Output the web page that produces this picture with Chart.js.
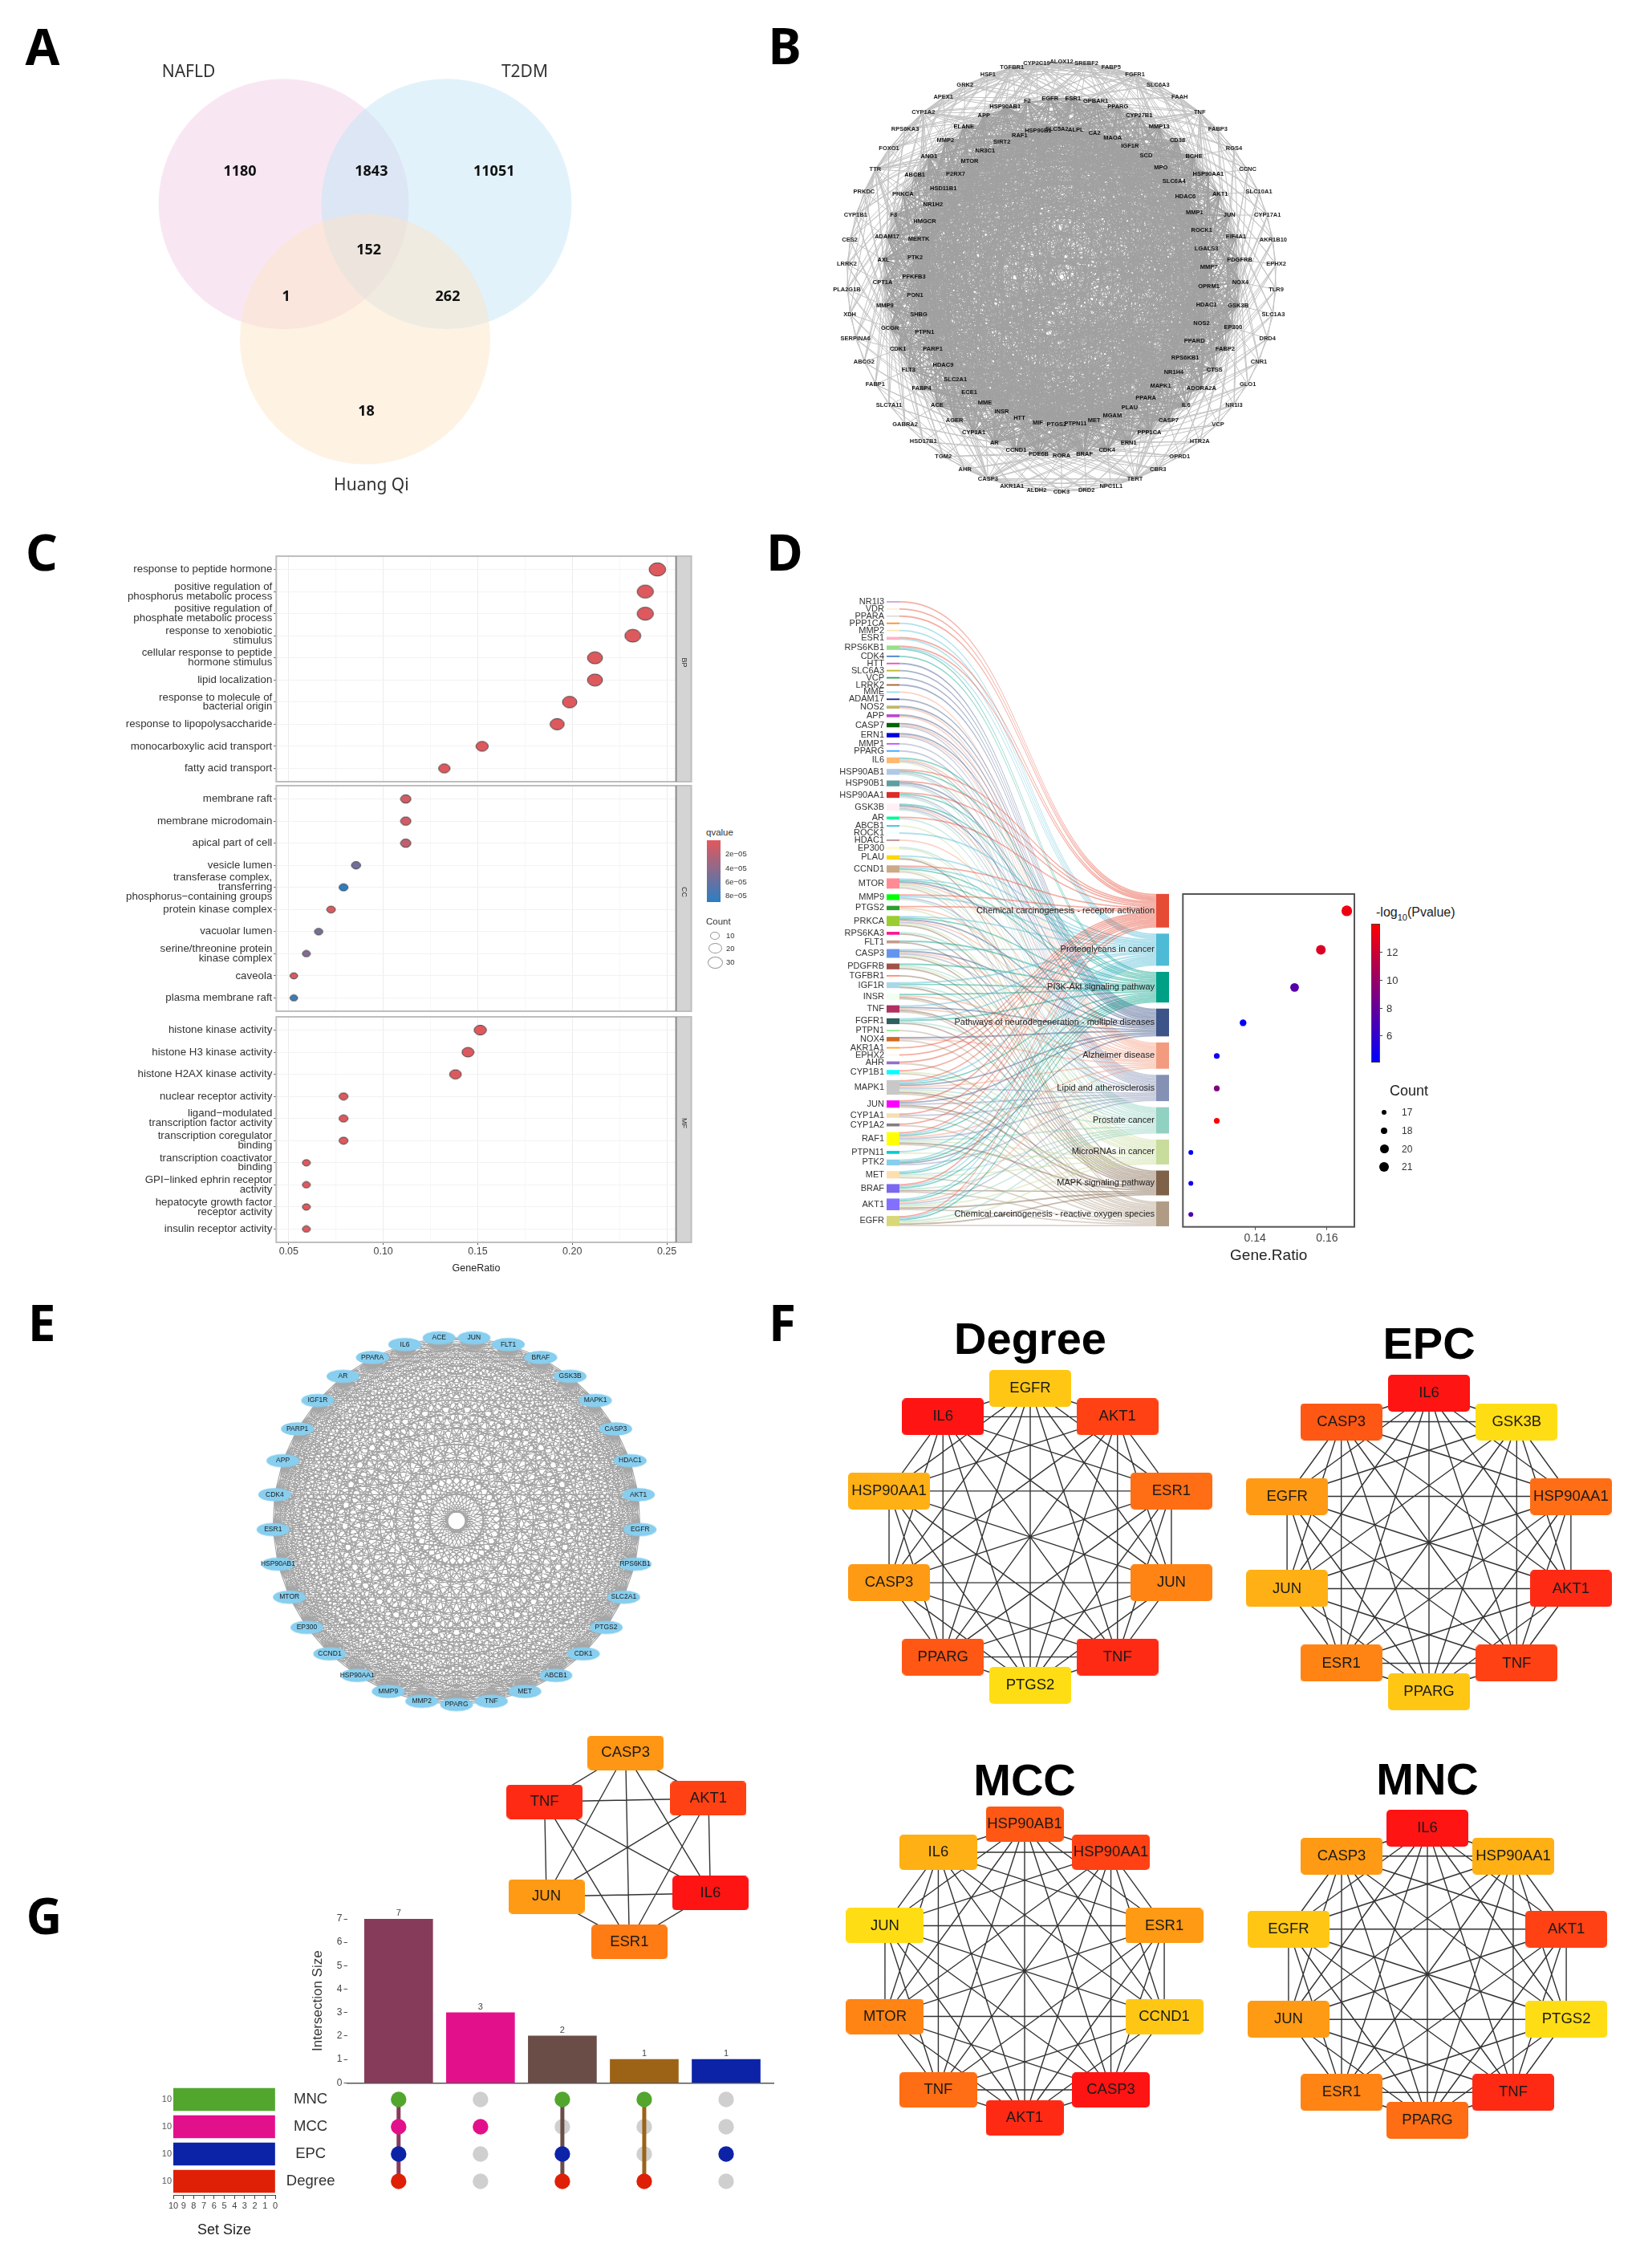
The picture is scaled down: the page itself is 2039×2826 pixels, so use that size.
<!DOCTYPE html>
<html>
<head>
<meta charset="utf-8">
<title>Figure</title>
<script src="https://cdn.jsdelivr.net/npm/chart.js@4"></script>
<style>
  html, body { margin: 0; background: #fff; }
  #page { position: relative; width: 2039px; height: 2826px; overflow: hidden; background: #fff; filter: blur(0.6px); }
  #page canvas { position: absolute; }
  .txt { position: absolute; white-space: nowrap; line-height: 1; }
  .swatch { position: absolute; }
</style>
</head>
<body>
<div id="page"></div>
<script>
// ---------- A: venn ----------
const vennSets = ['NAFLD', 'T2DM', 'Huang Qi'];
const vennCounts = ['1180', '1843', '11051', '152', '1', '262', '18'];

// ---------- B: three-ring network, clockwise from the top ----------
const outerRing = ['ALOX12','SREBF2','FABP5','FGFR1','SLC6A3','FAAH','TNF','FABP3','RGS4','CCNC','SLC10A1','CYP17A1','AKR1B10','EPHX2','TLR9','SLC1A3','DRD4','CNR1','GLO1','NR1I3','VCP','HTR2A','OPRD1','CBR3','TERT','NPC1L1','DRD2','CDK3','ALDH2','AKR1A1','CASP3','AHR','TGM2','HSD17B1','GABRA2','SLC7A11','FABP1','ABCG2','SERPINA6','XDH','PLA2G1B','LRRK2','CES2','CYP1B1','PRKDC','TTR','FOXO1','RPS6KA3','CYP1A2','APEX1','GRK2','HSF1','TGFBR1','CYP2C19'];
const middleRing = ['ESR1','GPBAR1','PPARG','CYP27B1','MMP13','CD38','BCHE','HSP90AA1','AKT1','JUN','EIF4A1','PDGFRB','NOX4','GSK3B','EP300','FABP2','CTSS','ADORA2A','IL6','CASP7','PPP1CA','ERN1','CDK4','BRAF','RORA','PDE6B','CCND1','AR','CYP1A1','AGER','ACE','FABP4','FLT3','CDK1','GCGR','MMP9','CPT1A','AXL','ADAM17','F3','PRKCA','ABCB1','ANG1','MMP2','ELANE','APP','HSP90AB1','F2','EGFR'];
const innerRing = ['SLC5A2','ALPL','CA2','MAOA','IGF1R','SCD','MPO','SLC6A4','HDAC6','MMP1','ROCK1','LGALS3','MMP7','OPRM1','HDAC1','NOS2','PPARD','RPS6KB1','NR1H4','MAPK1','PPARA','PLAU','MGAM','MET','PTPN11','PTGS2','MIF','HTT','INSR','MME','ECE1','SLC2A1','HDAC9','PARP1','PTPN1','SHBG','PON1','PFKFB3','PTK2','MERTK','HMGCR','NR1H2','HSD11B1','P2RX7','MTOR','NR3C1','SIRT2','RAF1','HSP90B1'];
// edges are too dense to read: these strides and hubs only approximate the density of the mass
const coreStrides = [3, 6, 10, 14, 18, 23, 27, 31, 35, 39, 43, 47, 50, 54, 59, 65, 72, 80];
const outerHubs = ['TNF', 'CASP3', 'FGFR1', 'SREBF2', 'TERT', 'CYP1A2', 'TTR', 'CYP2C19', 'TGFBR1'];

// ---------- C: GO dot plot ----------
const bpTerms = ['response to peptide hormone', ['positive regulation of','phosphorus metabolic process'], ['positive regulation of','phosphate metabolic process'], ['response to xenobiotic','stimulus'], ['cellular response to peptide','hormone stimulus'], 'lipid localization', ['response to molecule of','bacterial origin'], 'response to lipopolysaccharide', 'monocarboxylic acid transport', 'fatty acid transport'];
const bpRatio = [0.245, 0.2386, 0.2386, 0.232, 0.212, 0.212, 0.1986, 0.192, 0.1523, 0.1323];
const bpCount = [37, 36, 36, 35, 32, 32, 30, 29, 23, 20];
const bpQvalue = [2e-6, 2e-6, 2e-6, 2e-6, 2e-6, 2e-6, 2e-6, 2e-6, 2e-6, 2e-6];
const ccTerms = ['membrane raft', 'membrane microdomain', 'apical part of cell', 'vesicle lumen', ['transferase complex,','transferring','phosphorus\u2212containing groups'], 'protein kinase complex', 'vacuolar lumen', ['serine/threonine protein','kinase complex'], 'caveola', 'plasma membrane raft'];
const ccRatio = [0.1119, 0.1119, 0.1119, 0.0856, 0.079, 0.0724, 0.0658, 0.0593, 0.0527, 0.0527];
const ccCount = [17, 17, 17, 13, 12, 11, 10, 9, 8, 8];
const ccQvalue = [8e-6, 8e-6, 1.6e-5, 5.3e-5, 8.8e-5, 4e-6, 5e-5, 4.5e-5, 5e-6, 7.8e-5];
const mfTerms = ['histone kinase activity', 'histone H3 kinase activity', 'histone H2AX kinase activity', 'nuclear receptor activity', ['ligand\u2212modulated','transcription factor activity'], ['transcription coregulator','binding'], ['transcription coactivator','binding'], ['GPI\u2212linked ephrin receptor','activity'], ['hepatocyte growth factor','receptor activity'], 'insulin receptor activity'];
const mfRatio = [0.1513, 0.1448, 0.1382, 0.079, 0.079, 0.079, 0.0593, 0.0593, 0.0593, 0.0593];
const mfCount = [23, 22, 21, 12, 12, 12, 9, 9, 9, 9];
const mfQvalue = [2e-6, 2e-6, 2e-6, 2e-6, 2e-6, 2e-6, 2e-6, 2e-6, 2e-6, 2e-6];
const goTicks = [0.05, 0.075, 0.1, 0.125, 0.15, 0.175, 0.2, 0.225, 0.25];

// ---------- D: sankey + dot plot ----------
const pathwayNames = ['Chemical carcinogenesis - receptor activation', 'Proteoglycans in cancer', 'PI3K-Akt signaling pathway', 'Pathways of neurodegeneration - multiple diseases', 'Alzheimer disease', 'Lipid and atherosclerosis', 'Prostate cancer', 'MicroRNAs in cancer', 'MAPK signaling pathway', 'Chemical carcinogenesis - reactive oxygen species'];
const pathwayKeys = ['C', 'P', 'K', 'N', 'Z', 'L', 'S', 'M', 'A', 'R'];
const pathwayColors = ['#E64B35', '#4DBBD5', '#00A087', '#3C5488', '#F39B7F', '#8491B4', '#91D1C2', '#C8DC9C', '#7E6148', '#B09C85'];
const pathwayRatio = [0.1655, 0.1583, 0.151, 0.1367, 0.1294, 0.1294, 0.1294, 0.1222, 0.1222, 0.1222];
const pathwayCount = [23, 22, 21, 19, 18, 18, 18, 17, 17, 17];
const pathwayLogP = [13.0, 12.3, 7.5, 4.5, 4.8, 9.0, 13.5, 4.5, 4.8, 7.0];
const sankeyGenes = ['NR1I3','VDR','PPARA','PPP1CA','MMP2','ESR1','RPS6KB1','CDK4','HTT','SLC6A3','VCP','LRRK2','MME','ADAM17','NOS2','APP','CASP7','ERN1','MMP1','PPARG','IL6','HSP90AB1','HSP90B1','HSP90AA1','GSK3B','AR','ABCB1','ROCK1','HDAC1','EP300','PLAU','CCND1','MTOR','MMP9','PTGS2','PRKCA','RPS6KA3','FLT1','CASP3','PDGFRB','TGFBR1','IGF1R','INSR','TNF','FGFR1','PTPN1','NOX4','AKR1A1','EPHX2','AHR','CYP1B1','MAPK1','JUN','CYP1A1','CYP1A2','RAF1','PTPN11','PTK2','MET','BRAF','AKT1','EGFR'];
const sankeyLinks = ['C','C','C','P','P','CP','CPK','K','N','N','N','N','Z','N','NZ','NZ','NZL','NZL','L','L','KZLM','CKLS','CNLS','CKLS','KNZLS','CS','M','P','Z','SM','PMA','CPKMR','PKNZSMR','CPLS','CZM','PKNZLMA','SA','KA','PNZLMA','KSMA','A','PKSA','KZAR','PNZAR','PKSA','R','NZR','C','C','CR','CMR','CPKNZLSMAR','CNLAR','CLR','CR','CPKZLSMAR','PM','PKNL','PKSMR','CPKSAR','PKZLSMAR','CPKSMAR'];
const sankeyGeneColors = ['#C9A8D8','#FFEFD5','#DDDDDD','#FF8C2E','#FFE4B5','#FFB0C8','#98DF8A','#4682C4','#E84FC0','#BDB52C','#2E9B5C','#A5622A','#9BDDE8','#1F1F8F','#BDB76B','#BA48D2','#006400','#0000E0','#BF4FFF','#3FA0FF','#FFB870','#B0C8E8','#5F9EA0','#DC2C2C','#FFF0F5','#00FA9A','#3FC0D8','#F0FFFF','#BC8F8F','#FFFACD','#FFD700','#CCAA88','#FF8C94','#00FF00','#2E9E2E','#9ACD32','#FF1493','#C49A8C','#6495ED','#A0524A','#FF8A70','#A8D8E8','#F0FFF0','#B03060','#2F5F5F','#90EE90','#D2691E','#FFA520','#FFF5EE','#9370CB','#00FFFF','#C8C8C8','#FF00FF','#F5DEB3','#808080','#FFFF00','#00CED1','#87CEEB','#FFDEAD','#7B68EE','#8470FF','#D8D878'];
const dotTicksD = [0.14, 0.16];

// ---------- E: complete network, clockwise from the bottom ----------
const hubNetworkGenes = ['PPARG','MMP2','MMP9','HSP90AA1','CCND1','EP300','MTOR','HSP90AB1','ESR1','CDK4','APP','PARP1','IGF1R','AR','PPARA','IL6','ACE','JUN','FLT1','BRAF','GSK3B','MAPK1','CASP3','HDAC1','AKT1','EGFR','RPS6KB1','SLC2A1','PTGS2','CDK1','ABCB1','MET','TNF'];

// ---------- F: top-10 networks, clockwise from the top, rank 1 = red ----------
const degreeGenes = ['EGFR','AKT1','ESR1','JUN','TNF','PTGS2','PPARG','CASP3','HSP90AA1','IL6'];
const degreeRanks = [9, 3, 5, 6, 2, 10, 4, 7, 8, 1];
const epcGenes = ['IL6','GSK3B','HSP90AA1','AKT1','TNF','PPARG','ESR1','JUN','EGFR','CASP3'];
const epcRanks = [1, 10, 5, 2, 3, 9, 6, 8, 7, 4];
const mccGenes = ['HSP90AB1','HSP90AA1','ESR1','CCND1','CASP3','AKT1','TNF','MTOR','JUN','IL6'];
const mccRanks = [4, 3, 7, 9, 1, 2, 5, 6, 10, 8];
const mncGenes = ['IL6','HSP90AA1','AKT1','PTGS2','TNF','PPARG','ESR1','JUN','EGFR','CASP3'];
const mncRanks = [1, 8, 3, 10, 2, 5, 6, 7, 9, 7];
const coreGenes = ['CASP3','AKT1','IL6','ESR1','JUN','TNF'];
const coreRanks = [6.8, 3, 1, 5.6, 7, 2];

// ---------- G: upset ----------
const upsetSets = ['MNC', 'MCC', 'EPC', 'Degree'];
const upsetSetSizes = [10, 10, 10, 10];
const upsetSizes = [7, 3, 2, 1, 1];
const upsetMembers = [[1,1,1,1], [0,1,0,0], [1,0,1,1], [1,0,0,1], [0,0,1,0]];
const upsetBarColors = ['#873B5B', '#E3108C', '#6B4D48', '#9C6317', '#0C23A8'];
const upsetSetColors = ['#52A62E', '#E3108C', '#0C23A8', '#DF2006'];

// ---------- helpers ----------
const page = document.getElementById('page');
const SANS = '"Liberation Sans", Arial, sans-serif';

function addText(str, x, y, size, opts = {}) {
    const el = document.createElement('div');
    el.className = 'txt';
    el.innerHTML = str;
    el.style.left = x + 'px';
    el.style.top = y + 'px';
    el.style.fontSize = size + 'px';
    el.style.fontFamily = opts.family || SANS;
    el.style.fontWeight = opts.weight || 400;
    el.style.color = opts.color || '#222';
    el.style.transform = opts.align === 'left' ? 'translateY(-50%)' : 'translate(-50%,-50%)';
    page.appendChild(el);
}

function addSwatch(x, y, w, h, css) {
    const el = document.createElement('div');
    el.className = 'swatch';
    el.style.cssText = `left:${x}px;top:${y}px;width:${w}px;height:${h}px;${css}`;
    page.appendChild(el);
}

// text next to the points of a dataset
const markLabels = {
    id: 'markLabels',
    afterDatasetsDraw(chart) {
        const ctx = chart.ctx;
        chart.data.datasets.forEach((ds, i) => {
            if (!ds.markText) return;
            ctx.save();
            ctx.font = ds.markFont;
            ctx.fillStyle = ds.markColor || '#222';
            ctx.textAlign = ds.markAlign || 'center';
            ctx.textBaseline = 'middle';
            chart.getDatasetMeta(i).data.forEach((el, j) => {
                ctx.fillText(ds.markText[j], el.x + (ds.markDx || 0), el.y + (ds.markDy || 0));
            });
            ctx.restore();
        });
    }
};
Chart.register(markLabels);

function makeChart(x, y, w, h, config) {
    const canvas = document.createElement('canvas');
    canvas.width = w;
    canvas.height = h;
    canvas.style.left = x + 'px';
    canvas.style.top = y + 'px';
    page.appendChild(canvas);
    config.options = Object.assign({
        responsive: false,
        animation: false,
        devicePixelRatio: 1,
        events: []
    }, config.options);
    // autoPadding would shrink the plot by the size of the biggest mark
    config.options.layout = Object.assign({ autoPadding: false }, config.options.layout);
    config.options.plugins = Object.assign({ legend: { display: false }, tooltip: { enabled: false } }, config.options.plugins);
    return new Chart(canvas, config);
}

// fixes an axis box so the plot area lands where it should, labels or not
function fixAxis(scale, size) {
    if (scale.isHorizontal()) scale.height = size;
    else scale.width = size;
    scale.paddingTop = scale.paddingBottom = scale.paddingLeft = scale.paddingRight = 0;
}

function hiddenAxis(min, max, reverse) {
    return { type: 'linear', display: false, min: min, max: max, reverse: !!reverse };
}

function ringPoints(count, radius, start) {
    const pts = [];
    for (let i = 0; i < count; i++) {
        const a = start + i * 2 * Math.PI / count;
        pts.push({ x: radius * Math.sin(a), y: radius * Math.cos(a) });
    }
    return pts;
}

function segments(pairs) {
    const out = [];
    pairs.forEach(([a, b]) => out.push(a, b, { x: NaN, y: NaN }));
    return out;
}

function allPairs(pts) {
    const pairs = [];
    for (let i = 0; i < pts.length; i++) {
        for (let j = i + 1; j < pts.length; j++) pairs.push([pts[i], pts[j]]);
    }
    return pairs;
}

function ovalMark(w, h, fill, stroke) {
    const c = document.createElement('canvas');
    c.width = Math.ceil(w) + 2;
    c.height = Math.ceil(h) + 2;
    const ctx = c.getContext('2d');
    ctx.beginPath();
    ctx.ellipse(c.width / 2, c.height / 2, w / 2, h / 2, 0, 0, 2 * Math.PI);
    ctx.fillStyle = fill;
    ctx.fill();
    if (stroke) {
        ctx.strokeStyle = stroke;
        ctx.lineWidth = 1;
        ctx.stroke();
    }
    return c;
}

function roundRectMark(w, h, fill) {
    const c = document.createElement('canvas');
    c.width = w;
    c.height = h;
    const ctx = c.getContext('2d');
    ctx.beginPath();
    ctx.roundRect(0, 0, w, h, 5);
    ctx.fillStyle = fill;
    ctx.fill();
    return c;
}

function rankColor(rank) {
    const g = Math.round(20 + (rank - 1) / 9 * 201);
    return `rgb(255,${g},20)`;
}

function lerpColor(a, b, t) {
    t = Math.max(0, Math.min(1, t));
    return `rgb(${a.map((v, i) => Math.round(v + (b[i] - v) * t)).join(',')})`;
}

function boxFrame(color, lineWidth) {
    return {
        id: 'boxFrame',
        afterDatasetsDraw(chart) {
            const { left, top, right, bottom } = chart.chartArea;
            chart.ctx.save();
            chart.ctx.strokeStyle = color;
            chart.ctx.lineWidth = lineWidth;
            chart.ctx.strokeRect(left, top, right - left, bottom - top);
            chart.ctx.restore();
        }
    };
}

// ---------- A ----------
(function drawVenn() {
    const unit = 156;
    const circles = [{ x: -0.65, y: 0.36 }, { x: 0.65, y: 0.36 }, { x: 0, y: -0.72 }];
    const countSpots = [{ x: -1.0, y: 0.62 }, { x: 0.05, y: 0.62 }, { x: 1.03, y: 0.62 }, { x: 0.03, y: -0.01 }, { x: -0.63, y: -0.385 }, { x: 0.66, y: -0.385 }, { x: 0.01, y: -1.3 }];
    const nameSpots = [{ x: -1.41, y: 1.41 }, { x: 1.275, y: 1.41 }, { x: 0.05, y: -1.89 }];
    makeChart(143, 14, 625, 616, {
        data: {
            datasets: [
                { type: 'scatter', data: countSpots, pointRadius: 0, markText: vennCounts, markFont: '700 18px "Noto Sans"', markColor: '#111' },
                { type: 'scatter', data: nameSpots, pointRadius: 0, markText: vennSets, markFont: '21px "Noto Sans"', markColor: '#333' },
                {
                    type: 'bubble',
                    data: circles.map(c => ({ x: c.x, y: c.y, r: unit })),
                    backgroundColor: ['rgba(241,207,229,.5)', 'rgba(195,229,247,.5)', 'rgba(253,229,199,.5)'],
                    borderWidth: 0
                }
            ]
        },
        options: { scales: { x: hiddenAxis(-2, 2.006), y: hiddenAxis(-2.05, 1.9) } }
    });
})();

// ---------- B ----------
(function drawDenseNetwork() {
    const r = 268, margin = 40;
    const extent = (r + margin) / r;
    const outerPts = ringPoints(outerRing.length, 1, 0);
    const middlePts = ringPoints(middleRing.length, 223 / r, 0.064);
    const innerPts = ringPoints(innerRing.length, 184 / r, -0.031);
    const core = middlePts.concat(innerPts);
    const coreNames = middleRing.concat(innerRing);

    // the name letters shift each stride a little so the mass does not look like a clean rosette
    const nameShift = name => name.split('').reduce((s, ch) => s + ch.charCodeAt(0), 0);
    const corePairs = [];
    core.forEach((p, i) => coreStrides.forEach((s, k) => {
        const shift = (nameShift(coreNames[i]) * (k + 1)) % 9;
        corePairs.push([p, core[(i + s + shift) % core.length]]);
    }));

    const outerPairs = [];
    outerPts.forEach((p, i) => {
        const near = Math.round(i / outerRing.length * middlePts.length);
        [-7, -4, -1, 2, 5, 8].forEach(d => {
            outerPairs.push([p, middlePts[(near + d + middlePts.length) % middlePts.length]]);
        });
        outerPairs.push([p, outerPts[(i + 2) % outerPts.length]]);
    });
    outerHubs.forEach(name => {
        const i = outerRing.indexOf(name);
        const near = Math.round(i / outerRing.length * innerPts.length);
        for (let d = -12; d <= 12; d += 2) {
            outerPairs.push([outerPts[i], innerPts[(near + d + innerPts.length) % innerPts.length]]);
            outerPairs.push([outerPts[i], outerPts[(i + d / 2 + outerPts.length) % outerPts.length]]);
        }
    });

    const labelFont = '700 7.5px ' + SANS;
    makeChart(1323 - r - margin, 345 - r - margin, 2 * (r + margin), 2 * (r + margin), {
        type: 'scatter',
        data: {
            datasets: [
                { data: outerPts, pointRadius: 0, markText: outerRing, markFont: labelFont, markColor: '#222' },
                { data: middlePts, pointRadius: 0, markText: middleRing, markFont: labelFont, markColor: '#111' },
                { data: innerPts, pointRadius: 0, markText: innerRing, markFont: labelFont, markColor: '#111' },
                { data: segments(corePairs), showLine: true, pointRadius: 0, borderColor: '#a0a0a0', borderWidth: 0.95 },
                { data: segments(outerPairs), showLine: true, pointRadius: 0, borderColor: '#c2c2c2', borderWidth: 1 }
            ]
        },
        options: { scales: { x: hiddenAxis(-extent, extent), y: hiddenAxis(-extent, extent) } }
    });
})();

// ---------- C ----------
function goColor(q) {
    return lerpColor([226, 88, 92], [42, 127, 196], q / 8.8e-5);
}

function facetStrip(label) {
    return {
        id: 'facetStrip',
        afterDatasetsDraw(chart) {
            const { left, top, right, bottom } = chart.chartArea;
            const ctx = chart.ctx;
            const stripWidth = 19;
            ctx.save();
            ctx.fillStyle = '#D4D4D4';
            ctx.fillRect(right, top, stripWidth, bottom - top);
            ctx.strokeStyle = '#BEBEBE';
            ctx.lineWidth = 2;
            ctx.strokeRect(left, top, right + stripWidth - left, bottom - top);
            ctx.strokeStyle = '#8A8A8A';
            ctx.beginPath();
            ctx.moveTo(right, top);
            ctx.lineTo(right, bottom);
            ctx.stroke();
            ctx.translate(right + stripWidth / 2, (top + bottom) / 2 - 8);
            ctx.rotate(Math.PI / 2);
            ctx.fillStyle = '#333';
            ctx.font = '9px ' + SANS;
            ctx.textAlign = 'center';
            ctx.textBaseline = 'middle';
            ctx.fillText(label, 0, 0);
            ctx.restore();
        }
    };
}

function goFacet(top, terms, ratio, count, qvalue, strip, withAxis) {
    const plotLeft = 344.3, canvasLeft = 110, plotWidth = 498.3, plotHeight = 281.5;
    const below = withAxis ? 44 : 4;
    makeChart(canvasLeft, top - 4, 760, plotHeight + 4 + below, {
        type: 'scatter',
        data: {
            datasets: [{
                data: ratio.map((v, i) => ({ x: v, y: i })),
                pointRadius: 8,
                pointStyle: ratio.map((v, i) => {
                    const w = 6.5 + count[i] * 0.38;
                    return ovalMark(w, w * 0.8, goColor(qvalue[i]), '#444');
                })
            }]
        },
        options: {
            layout: { padding: { top: 4, right: 760 - (plotLeft - canvasLeft) - plotWidth, bottom: 0, left: 0 } },
            scales: {
                x: {
                    type: 'linear',
                    min: 0.0434,
                    max: 0.2549,
                    afterBuildTicks: s => { s.ticks = goTicks.map(v => ({ value: v })); },
                    afterFit: s => fixAxis(s, below),
                    border: { display: false },
                    grid: {
                        color: c => (c.index % 2 ? '#F7F7F7' : '#ECECEC'),
                        tickColor: c => (c.index % 2 || !withAxis ? 'transparent' : '#555'),
                        tickLength: withAxis ? 3 : 0
                    },
                    ticks: {
                        display: withAxis,
                        autoSkip: false,
                        maxRotation: 0,
                        padding: 1,
                        color: '#444',
                        font: { size: 12.5, family: 'Liberation Sans' },
                        callback: (v, i) => (i % 2 ? '' : v.toFixed(2))
                    },
                    title: { display: withAxis, text: 'GeneRatio', color: '#222', font: { size: 12.5, family: 'Liberation Sans' }, padding: { top: 0, bottom: 4 } }
                },
                y: {
                    type: 'linear',
                    reverse: true,
                    min: -0.6,
                    max: 9.6,
                    afterBuildTicks: s => { s.ticks = terms.map((t, i) => ({ value: i })); },
                    afterFit: s => fixAxis(s, plotLeft - canvasLeft),
                    border: { display: false },
                    grid: { color: '#F2F2F2', tickColor: '#555', tickLength: 3 },
                    ticks: {
                        autoSkip: false,
                        padding: 2,
                        color: '#333',
                        font: { size: 13.3, family: 'Liberation Sans', lineHeight: 0.9 },
                        callback: v => terms[v]
                    }
                }
            }
        },
        plugins: [facetStrip(strip)]
    });
}

goFacet(692.7, bpTerms, bpRatio, bpCount, bpQvalue, 'BP', false);
goFacet(979.3, ccTerms, ccRatio, ccCount, ccQvalue, 'CC', false);
goFacet(1266.7, mfTerms, mfRatio, mfCount, mfQvalue, 'MF', true);

// C legend
addText('qvalue', 880, 1038, 11.5, { align: 'left', color: '#333' });
addSwatch(880.5, 1046.7, 17.5, 77.6, 'background:linear-gradient(#E2585C,#2A7FC4)');
[['2e\u221205', 1064], ['4e\u221205', 1081.7], ['6e\u221205', 1098.7], ['8e\u221205', 1116]].forEach(([t, y]) => addText(t, 904, y, 9.5, { align: 'left', color: '#333' }));
addText('Count', 880, 1149, 11.5, { align: 'left', color: '#333' });
[[10, 1166.3, 12.6, 10], [20, 1181.7, 17, 13.3], [30, 1199.3, 19, 15.3]].forEach(([n, y, w, h]) => {
    addSwatch(891 - w / 2, y - h / 2, w, h, 'box-sizing:border-box;border:1.5px solid #999;border-radius:50%');
    addText(String(n), 905, y, 9.5, { align: 'left', color: '#333' });
});

// ---------- D ----------
(function drawSankey() {
    const geneGap = 3.9, pathGap = 4.17, totalUnits = 428;
    const linkCount = sankeyLinks.reduce((s, l) => s + l.length, 0);
    const pathTotals = pathwayKeys.map(k => sankeyLinks.join('').split(k).length - 1);

    const geneTop = [];
    let cursor = 0;
    sankeyLinks.forEach(l => { geneTop.push(cursor); cursor += l.length + geneGap; });
    const pathTop = [];
    cursor = totalUnits - (linkCount + (pathwayKeys.length - 1) * pathGap);
    const firstUnit = cursor;
    pathTotals.forEach(n => { pathTop.push(cursor); cursor += n + pathGap; });
    const pathCenters = pathTop.map((t, i) => t + pathTotals[i] / 2);
    const nodeWidth = 16 / 352;

    const flows = {
        id: 'flows',
        beforeDatasetsDraw(chart) {
            const { x: xs, y: ys } = chart.scales;
            const ctx = chart.ctx;
            const x0 = xs.getPixelForValue(nodeWidth), x1 = xs.getPixelForValue(1 - nodeWidth);
            const mid = (x0 + x1) / 2;
            const pathUsed = pathTop.slice();
            const ribbons = [];
            sankeyLinks.forEach((links, g) => {
                let used = geneTop[g];
                pathwayKeys.forEach((k, p) => {
                    if (!links.includes(k)) return;
                    ribbons.push({ p, a: used, b: pathUsed[p] });
                    used += 1;
                    pathUsed[p] += 1;
                });
            });
            ctx.save();
            for (let p = pathwayKeys.length - 1; p >= 0; p--) {
                ctx.fillStyle = pathwayColors[p] + '73';
                ribbons.filter(r => r.p === p).forEach(r => {
                    ctx.beginPath();
                    ctx.moveTo(x0, ys.getPixelForValue(r.a));
                    ctx.bezierCurveTo(mid, ys.getPixelForValue(r.a), mid, ys.getPixelForValue(r.b), x1, ys.getPixelForValue(r.b));
                    ctx.lineTo(x1, ys.getPixelForValue(r.b + 1));
                    ctx.bezierCurveTo(mid, ys.getPixelForValue(r.b + 1), mid, ys.getPixelForValue(r.a + 1), x0, ys.getPixelForValue(r.a + 1));
                    ctx.closePath();
                    ctx.fill();
                });
            }
            sankeyLinks.forEach((links, g) => {
                ctx.fillStyle = sankeyGeneColors[g];
                const top = ys.getPixelForValue(geneTop[g]);
                ctx.fillRect(xs.getPixelForValue(0), top, x0 - xs.getPixelForValue(0), ys.getPixelForValue(geneTop[g] + links.length) - top);
            });
            pathTotals.forEach((n, p) => {
                ctx.fillStyle = pathwayColors[p];
                const top = ys.getPixelForValue(pathTop[p]);
                ctx.fillRect(x1, top, xs.getPixelForValue(1) - x1, ys.getPixelForValue(pathTop[p] + n) - top);
            });
            ctx.restore();
        }
    };

    const labelFont = '11px ' + SANS;
    makeChart(1020, 740, 450, 800, {
        type: 'scatter',
        data: {
            datasets: [
                {
                    data: sankeyLinks.map((l, g) => ({ x: 0, y: geneTop[g] + l.length / 2 })),
                    pointRadius: 0, markText: sankeyGenes, markFont: labelFont, markColor: '#333', markAlign: 'right', markDx: -3
                },
                {
                    data: pathCenters.map(y => ({ x: 1 - nodeWidth, y: y })),
                    pointRadius: 0, markText: pathwayNames, markFont: labelFont, markColor: '#222', markAlign: 'right', markDx: -2
                }
            ]
        },
        options: {
            layout: { padding: { left: 85, right: 13, top: 9, bottom: 12 } },
            scales: { x: hiddenAxis(0, 1), y: hiddenAxis(0, totalUnits, true) }
        },
        plugins: [flows]
    });

    makeChart(1460, 1100, 240, 480, {
        type: 'scatter',
        data: {
            datasets: [{
                data: pathwayRatio.map((v, i) => ({ x: v, y: pathCenters[i] })),
                pointRadius: pathwayCount.map(c => (6 + (c - 17) * 1.2) / 2),
                borderWidth: 0,
                backgroundColor: pathwayLogP.map(v => lerpColor([0, 0, 255], [255, 0, 0], (v - 4.3) / 9.3))
            }]
        },
        options: {
            layout: { padding: { left: 14.3, right: 12, top: 14, bottom: 0 } },
            scales: {
                x: {
                    type: 'linear',
                    min: 0.12,
                    max: 0.1676,
                    afterBuildTicks: s => { s.ticks = dotTicksD.map(v => ({ value: v })); },
                    afterFit: s => fixAxis(s, 51.3),
                    border: { display: false },
                    grid: { drawOnChartArea: false, tickColor: '#555', tickLength: 4 },
                    ticks: { color: '#444', padding: 2, font: { size: 14, family: 'Liberation Sans' }, callback: v => v.toFixed(2) },
                    title: { display: true, text: 'Gene.Ratio', color: '#222', font: { size: 19, family: 'Liberation Sans' }, padding: { top: 0, bottom: 4 } }
                },
                y: hiddenAxis(firstUnit, totalUnits, true)
            }
        },
        plugins: [boxFrame('#555', 2)]
    });
})();

// D legend
addText('-log<sub style="font-size:11px">10</sub>(Pvalue)', 1715, 1139, 16, { align: 'left', color: '#222' });
addSwatch(1710, 1151.7, 9, 171.6, 'background:linear-gradient(#ff0000,#0000ff);outline:1px solid #444');
[['12', 1186.3], ['10', 1220.7], ['8', 1255.7], ['6', 1290.3]].forEach(([t, y]) => {
    addSwatch(1719, y, 4, 1, 'background:#444');
    addText(t, 1728, y, 13, { align: 'left', color: '#333' });
});
addText('Count', 1732, 1359, 18, { align: 'left', color: '#222' });
[[17, 1386, 6], [18, 1409, 8], [20, 1431.7, 11], [21, 1454.3, 12]].forEach(([n, y, d]) => {
    addSwatch(1725 - d / 2, y - d / 2, d, d, 'background:#000;border-radius:50%');
    addText(String(n), 1747, y, 12, { align: 'left', color: '#333' });
});

// ---------- E + F ----------
function ringChart(cx, cy, r, margin, genes, start, marks, font, edgeColor, edgeWidth) {
    const extent = (r + margin) / r;
    const pts = ringPoints(genes.length, 1, start);
    makeChart(cx - r - margin, cy - r - margin, 2 * (r + margin), 2 * (r + margin), {
        type: 'scatter',
        data: {
            datasets: [
                { data: pts, pointRadius: 5, pointStyle: marks, markText: genes, markFont: font, markColor: '#1a1a1a' },
                { data: segments(allPairs(pts)), showLine: true, pointRadius: 0, borderColor: edgeColor, borderWidth: edgeWidth }
            ]
        },
        options: { scales: { x: hiddenAxis(-extent, extent), y: hiddenAxis(-extent, extent) } }
    });
}

ringChart(568.5, 1895, 229, 30, hubNetworkGenes, Math.PI, hubNetworkGenes.map(() => ovalMark(41, 16.7, '#87CEEF')), '8.5px ' + SANS, '#a6a6a6', 1.2);

function topTenNetwork(title, titleY, cx, cy, r, genes, ranks, w, h) {
    addText(title, cx, titleY, 56, { weight: 700, color: '#000' });
    ringChart(cx, cy, r, 60, genes, 0, ranks.map(v => roundRectMark(w, h, rankColor(v))), '18.5px ' + SANS, '#333', 1.4);
}

topTenNetwork('Degree', 1668, 1284, 1915, 185, degreeGenes, degreeRanks, 102, 46);
topTenNetwork('EPC', 1674, 1781, 1922, 186, epcGenes, epcRanks, 102, 46);
topTenNetwork('MCC', 2218, 1277, 2455.5, 183, mccGenes, mccRanks, 97, 44);
topTenNetwork('MNC', 2217, 1779, 2460, 182, mncGenes, mncRanks, 102, 46);
ringChart(782, 2302, 118, 60, coreGenes, -0.02, coreRanks.map(v => roundRectMark(95, 43, rankColor(v))), '18.5px ' + SANS, '#333', 1.4);

// ---------- G ----------
(function drawUpset() {
    const xMin = -0.63, xMax = 4.585;
    const barData = upsetSizes.map((v, i) => ({ x: i, y: v }));
    makeChart(380, 2370, 595, 240, {
        type: 'bar',
        data: {
            datasets: [{
                data: barData,
                backgroundColor: upsetBarColors,
                barThickness: 85,
                markText: upsetSizes.map(String),
                markFont: '11px ' + SANS,
                markColor: '#444',
                markDy: -7
            }]
        },
        options: {
            layout: { padding: { top: 21, right: 10.3 } },
            scales: {
                x: {
                    type: 'linear',
                    offset: false,
                    min: xMin,
                    max: xMax,
                    afterFit: s => fixAxis(s, 14.7),
                    border: { color: '#555', width: 1.5 },
                    grid: { display: false },
                    ticks: { display: false }
                },
                y: {
                    min: 0,
                    max: 7,
                    afterFit: s => fixAxis(s, 52.5),
                    border: { display: false },
                    grid: { drawOnChartArea: false, tickColor: '#555', tickLength: 4 },
                    ticks: { stepSize: 1, color: '#444', padding: 2, font: { size: 12, family: 'Liberation Sans' } },
                    title: { display: true, text: 'Intersection Size', color: '#333', font: { size: 17, family: 'Liberation Sans' }, padding: { top: 6, bottom: 0 } }
                }
            }
        }
    });

    const greyDots = [], colorDots = [], dotColors = [], links = [];
    upsetMembers.forEach((col, i) => {
        const rows = [];
        col.forEach((on, row) => {
            if (on) {
                colorDots.push({ x: i, y: row });
                dotColors.push(upsetSetColors[row]);
                rows.push(row);
            } else {
                greyDots.push({ x: i, y: row });
            }
        });
        if (rows.length > 1) {
            links.push({
                data: [{ x: i, y: rows[0] }, { x: i, y: rows[rows.length - 1] }],
                showLine: true, pointRadius: 0, borderColor: upsetBarColors[i], borderWidth: 5, order: 2
            });
        }
    });
    makeChart(330, 2595, 645, 145, {
        type: 'scatter',
        data: {
            datasets: [
                { data: colorDots, pointRadius: 9.7, backgroundColor: dotColors, borderWidth: 0, order: 1 },
                ...links,
                { data: greyDots, pointRadius: 9.7, backgroundColor: '#CFCFCF', borderWidth: 0, order: 3 }
            ]
        },
        options: {
            layout: { padding: { top: 4, bottom: 5, right: 10.3 } },
            scales: {
                x: hiddenAxis(xMin, xMax),
                y: {
                    type: 'linear',
                    reverse: true,
                    min: -0.5,
                    max: 3.5,
                    afterBuildTicks: s => { s.ticks = upsetSets.map((n, i) => ({ value: i })); },
                    afterFit: s => fixAxis(s, 102.5),
                    border: { display: false },
                    grid: { display: false },
                    ticks: {
                        autoSkip: false,
                        padding: 7,
                        crossAlign: 'center',
                        color: '#333',
                        font: { size: 18.5, family: 'Liberation Sans' },
                        callback: v => upsetSets[v]
                    }
                }
            }
        }
    });

    makeChart(190, 2590, 170, 210, {
        type: 'bar',
        data: {
            labels: upsetSets,
            datasets: [{
                data: upsetSetSizes,
                backgroundColor: upsetSetColors,
                barThickness: 28,
                markText: upsetSetSizes.map(String),
                markFont: '11px ' + SANS,
                markColor: '#555',
                markAlign: 'right',
                markDx: -2
            }]
        },
        options: {
            indexAxis: 'y',
            layout: { padding: { left: 26, right: 17, top: 9 } },
            scales: {
                x: {
                    type: 'linear',
                    reverse: true,
                    min: 0,
                    max: 10,
                    afterFit: s => fixAxis(s, 65),
                    border: { color: '#444', width: 1 },
                    grid: { drawOnChartArea: false, tickColor: '#444', tickLength: 5 },
                    ticks: { stepSize: 1, autoSkip: false, maxRotation: 0, color: '#444', padding: 2, font: { size: 11, family: 'Liberation Sans' } },
                    title: { display: true, text: 'Set Size', color: '#222', font: { size: 18, family: 'Liberation Sans' }, padding: { top: 0, bottom: 10 } }
                },
                y: { display: false }
            }
        }
    });
})();

// ---------- panel letters ----------
[['A', 53, 57], ['B', 978, 56], ['C', 52, 687], ['D', 978, 687], ['E', 52, 1647], ['F', 975, 1647], ['G', 55, 2386]].forEach(([t, x, y]) => {
    addText(t, x, y, 62, { weight: 700, color: '#000', family: '"Noto Sans"' });
});
</script>
</body>
</html>
